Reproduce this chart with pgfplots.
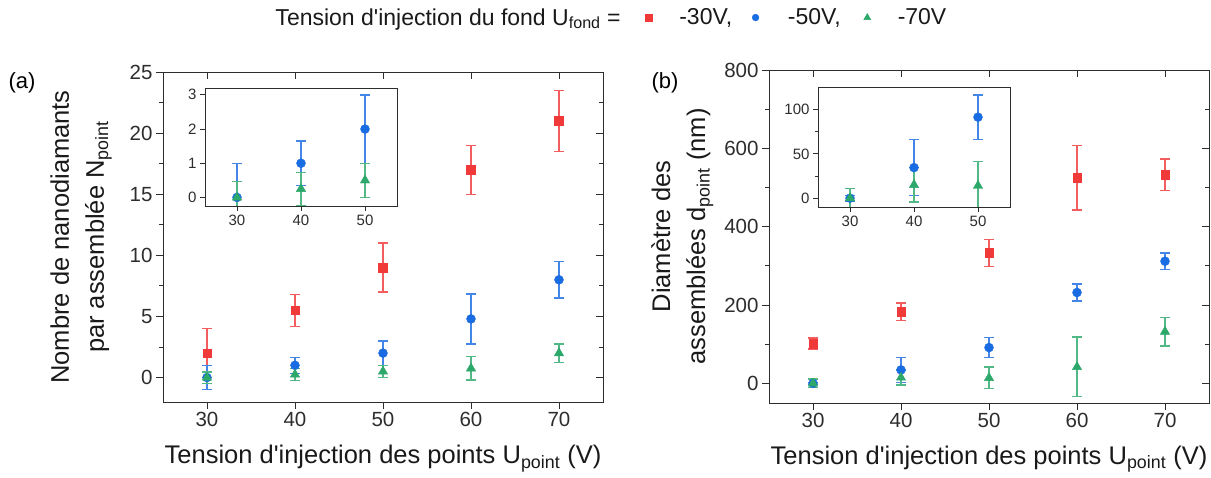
\documentclass[border=0pt]{standalone}
\usepackage{pgfplots}
\pgfplotsset{compat=1.18}
\usepackage{pgfplotstable}
\usepackage{fontspec}
\setmainfont{Liberation Sans}
\newfontfamily\apf{Liberation Sans}
\newcommand{\ap}{{\apf'}}
\newcommand{\gap}[1]{\kern#1\relax}
\definecolor{cred}{RGB}{240,58,58}
\definecolor{cblue}{RGB}{26,108,226}
\definecolor{cgreen}{RGB}{44,168,106}
\definecolor{tk}{RGB}{45,45,45}

% (a) Number of nanodiamonds per assembly
\pgfplotstableread{
x y e
30 2 2
40 5.5 1.3
50 9 2
60 17 2
70 21 2.5
}\redA
\pgfplotstableread{
x y e
30 0 1
40 1 0.65
50 2 1
60 4.8 2.05
70 8 1.5
}\blueA
\pgfplotstableread{
x y e
30 0 0.47
40 0.25 0.48
50 0.5 0.5
60 0.75 0.95
70 2 0.75
}\greenA
% (b) Diameter
\pgfplotstableread{
x y e
30 102 14
40 183 22
50 333 35
60 525 82
70 533 40
}\redB
\pgfplotstableread{
x y e
30 0 3
40 34.5 31.5
50 91.5 25
60 232 22
70 312 21
}\blueB
\pgfplotstableread{
x y e
30 0 11
40 15 19.5
50 14 27.7
60 42 76
70 132 37
}\greenB

\tikzset{lab/.style={font=\fontsize{25.5}{35}\selectfont, text=black!90}}
\pgfplotsset{
  base/.style={scale only axis, anchor=south west,
    /pgf/number format/assume math mode=true,
    axis line style={line width=0.9pt, tk},
    every tick/.style={line width=0.9pt, tk},
    ticklabel style={font=\fontsize{20.5}{24}\selectfont, text=tk},
    major tick length=7pt, minor tick length=4pt,
    xmin=25, xmax=75, xtick={30,40,...,70}},
  errs/.style={error bars/y dir=both, error bars/y explicit,
    error bars/error bar style={line width=1.4pt, draw=#1!82!white},
    error bars/error mark options={rotate=90, mark size=5pt, line width=1.4pt, draw=#1!82!white}},
  sred/.style={only marks, mark=square*, mark size=4.3pt, color=cred, errs=cred},
  sblue/.style={only marks, mark=*, mark size=4.5pt, color=cblue, errs=cblue},
  sgreen/.style={only marks, mark=triangle*, mark size=5.4pt, color=cgreen, errs=cgreen},
  inset/.style={scale only axis, anchor=south west,
    /pgf/number format/assume math mode=true,
    axis background/.style={fill=white},
    axis line style={line width=0.9pt, tk},
    every tick/.style={line width=0.9pt, tk},
    ticklabel style={font=\fontsize{15}{18}\selectfont, text=tk},
    major tick length=5pt, minor tick length=3pt,
    tick align=outside, xtick pos=left, ytick pos=left,
    xmin=25, xmax=55, xtick={30,40,50}}
}

\begin{document}
\begin{tikzpicture}
\useasboundingbox (0,0) rectangle (1211pt,477pt);

% ---------------- (a) main
\begin{axis}[base, at={(163pt,75pt)}, width=440pt, height=330pt,
  ymin=-2, ymax=25, ytick={0,5,...,25}, minor y tick num=1,
  tick align=outside, xtick pos=left, ytick pos=left,
  xlabel={Tension d\ap injection des points U\textsubscript{point} (V)},
  ylabel={Nombre de nanodiamants\\par assemblée N\textsubscript{point}},
  xlabel style={lab, at={(axis description cs:0.5,-0.172)}, anchor=center},
  ylabel style={lab, align=center, at={(axis description cs:-0.186,0.5)}, anchor=center},
  legend style={at={(axis description cs:1.018,1.165)}, anchor=center, draw=none, fill=none,
    font=\fontsize{23}{27}\selectfont, text=black!90, legend columns=-1},
]
\addlegendimage{empty legend}
\addlegendentry{Tension d\ap injection du fond U\textsubscript{fond} =\gap{23pt}}
\addlegendimage{only marks, mark=square*, mark size=3.4pt, cred}
\addlegendentry{\gap{25pt}-30V,\gap{18pt}}
\addlegendimage{only marks, mark=*, mark size=3.4pt, cblue}
\addlegendentry{\gap{27pt}-50V,\gap{21pt}}
\addlegendimage{only marks, mark=triangle*, mark size=4pt, cgreen}
\addlegendentry{\gap{25pt}-70V}
\addplot[forget plot, sred] table[x=x, y=y, y error=e] {\redA};
\addplot[forget plot, sblue] table[x=x, y=y, y error=e] {\blueA};
\addplot[forget plot, sgreen] table[x=x, y=y, y error=e] {\greenA};
\end{axis}
\begin{axis}[base, at={(163pt,75pt)}, width=440pt, height=330pt,
  ymin=-2, ymax=25, ytick={0,5,...,25}, minor y tick num=1,
  tick align=inside, xtick pos=right, ytick pos=right,
  xticklabels={}, yticklabels={}]
\end{axis}

% ---------------- (a) inset
\begin{axis}[inset, at={(205pt,271pt)}, width=192pt, height=118pt,
  ymin=-0.25, ymax=3.2, ytick={0,1,2,3}]
\addplot[sblue] table[x=x, y=y, y error=e] {\blueA};
\addplot[sgreen] table[x=x, y=y, y error=e] {\greenA};
\end{axis}

% ---------------- (b) main
\begin{axis}[base, at={(769pt,74pt)}, width=440pt, height=333pt,
  ymin=-50, ymax=800, ytick={0,200,...,800}, minor y tick num=1,
  tick align=outside, xtick pos=left, ytick pos=left,
  xlabel={Tension d\ap injection des points U\textsubscript{point} (V)},
  ylabel={Diamètre des\\assemblées d\textsubscript{point} (nm)},
  xlabel style={lab, at={(axis description cs:0.5,-0.168)}, anchor=center},
  ylabel style={lab, align=center, at={(axis description cs:-0.197,0.5)}, anchor=center},
]
\addplot[sred] table[x=x, y=y, y error=e] {\redB};
\addplot[sblue] table[x=x, y=y, y error=e] {\blueB};
\addplot[sgreen] table[x=x, y=y, y error=e] {\greenB};
\end{axis}
\begin{axis}[base, at={(769pt,74pt)}, width=440pt, height=333pt,
  ymin=-50, ymax=800, ytick={0,200,...,800}, minor y tick num=1,
  tick align=inside, xtick pos=right, ytick pos=right,
  xticklabels={}, yticklabels={}]
\end{axis}

% ---------------- (b) inset
\begin{axis}[inset, at={(818pt,270pt)}, width=192pt, height=119.5pt,
  ymin=-10, ymax=125, ytick={0,50,100}, minor y tick num=1]
\addplot[sblue] table[x=x, y=y, y error=e] {\blueB};
\addplot[sgreen] table[x=x, y=y, y error=e] {\greenB};
\end{axis}

\node[font=\fontsize{22}{26}\selectfont] at (22pt,394pt) {(a)};
\node[font=\fontsize{22}{26}\selectfont] at (665pt,394pt) {(b)};
\end{tikzpicture}
\end{document}
